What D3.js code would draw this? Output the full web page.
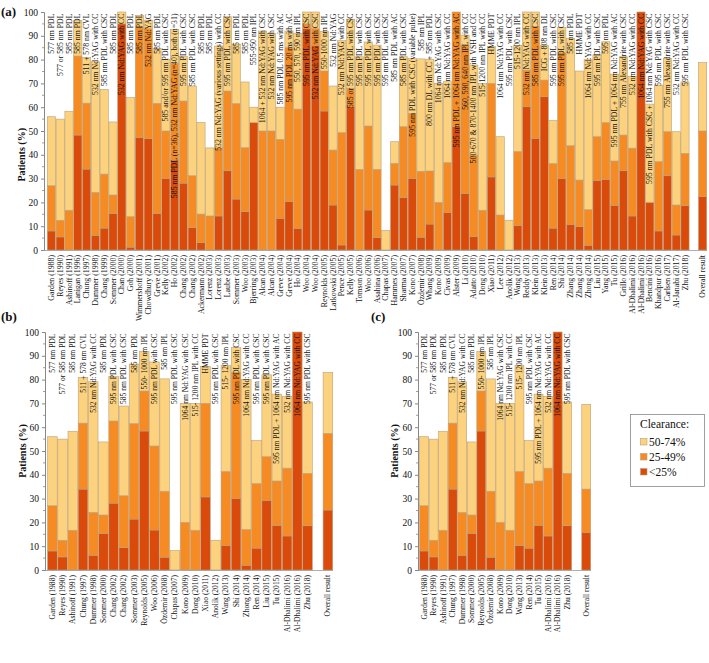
<!DOCTYPE html>
<html><head><meta charset="utf-8">
<script src="https://cdn.jsdelivr.net/npm/d3@7"></script>
<style>
body{margin:0;background:#fff}
svg{display:block}
text{font-family:"Liberation Serif","Times New Roman",serif;fill:#111}
</style>
</head><body>
<svg id="chart" width="709" height="663"></svg>
<script>
// ---------------- DATA ----------------
const studies = ["Garden (1988)","Reyes (1990)","Ashinoff (1991)","Lanigan (1996)","Chung (1997)","Dummer (1998)","Chang (1999)","Sommer (2000)","Chan (2000)","Goh (2000)","Wimmershoff (2001)","Chowdhury (2001)","Greve (2001)","Kelly (2002)","Ho (2002)","Chang (2002)","Chang (2002)","Ackermann (2002)","Lorenz (2003)","Lorenz (2003)","Laube (2003)","Sommer (2003)","Woo (2003)","Bjerring (2003)","Alcan (2004)","Alcan (2004)","Greve (2004)","Greve (2004)","Ho (2004)","Woo (2004)","Woo (2004)","Reynolds (2005)","Latkowski (2005)","Pence (2005)","Kelly (2005)","Tomson (2006)","Woo (2006)","Asahina (2006)","Chapas (2007)","Hammes (2007)","Sharma (2007)","Kono (2007)","Özdemir (2008)","Whang (2009)","Kono (2009)","Civas (2009)","Alster (2009)","Li (2010)","Adatto (2010)","Dong (2010)","Xiao (2011)","Lee (2012)","Anolik (2012)","Wang (2013)","Reddy (2013)","Klein (2013)","Klein (2013)","Ren (2014)","Shi (2014)","Zhang (2014)","Zhang (2014)","Zhong (2014)","Liu (2015)","Yang (2015)","Tu (2015)","Grillo (2016)","Al-Dhalimi (2016)","Al-Dhalimi (2016)","Bencini (2016)","Khandpur (2016)","Carlsen (2017)","Al-Janabi (2017)","Zhu (2018)"];

const treatments = ["577 nm PDL","577 or 585 nm PDL","585 nm PDL","585 nm PDL","511 + 578 nm CVL","532 nm Nd:YAG with CC","585 nm PDL with CSC","585 nm PDL","532 nm Nd:YAG with CC","585 nm PDL","585 nm PDL","532 nm Nd:YAG","585 nm PDL","585 and/or 595 nm PDL with CSC","585 nm PDL (n=36), 532 nm Nd:YAG (n=40), both (n=31)","595 nm PDL with CSC","585 nm PDL with CSC","585 nm PDL","585 nm PDL","532 nm Nd:YAG (various settings) with CC","595 nm PDL with CSC","585 nm PDL","585 nm PDL","555-950 nm IPL","1064 + 532 nm Nd:YAG with CSC","532 nm Nd:YAG with CSC","585 nm PDL 0.5 ms with AC","595 nm PDL 20 ms with AC","550, 570, 590 nm IPL","595 nm PDL with CSC","532 nm Nd:YAG with CSC","550-1000 nm IPL","532 nm Nd:YAG","532 nm Nd:YAG with CC","585 or 595 nm PDL with CSC","595 nm PDL with CSC","595 nm PDL with CSC","595 nm PDL with CSC","595 nm PDL with CSC","585 nm PDL with AC","585 nm PDL with CSC","595 nm PDL with CSC (variable pulse)","585 nm IPL","800 nm DL with CC + 585 nm PDL","1064 nm Nd:YAG with CSC","1064 nm Nd:YAG with CC","595 nm PDL + 1064 nm Nd:YAG with AC","560, 590, 640 nm IPL with CC","500-670 & 870-1400 nm IPL with VSH and CC","515-1200 nm IPL with CC","HMME PDT","1064 nm Nd:YAG with CC","595 nm PDL with CSC","515-1200 nm IPL","532 nm Nd:YAG with CC","585 nm PDL with CSC","ICG + 808 nm DL","595 nm PDL with CSC","595 nm PDL with CSC","585 nm PDL","HMME PDT","1064 nm Nd:YAG with CC","595 nm PDL with CSC","595 nm PDL","595 nm PDL + 1064 nm Nd:YAG with AC","755 nm Alexandrite with CSC","532 nm Nd:YAG with CC","1064 nm Nd:YAG with CC","595 nm PDL with CSC + 1064 nm Nd:YAG with CSC","595 nm PDL with CSC","755 nm Alexandrite with CSC","532 nm Nd:YAG with CC","595 nm PDL with CSC"];

// share of patients (%) per clearance category
const clearLt25 = [8,5.5,0,48.3,34,6.2,9.2,15.4,95,1.2,47.3,46.8,15.4,30.1,37.8,28.1,9.4,3.1,0,14.3,33.3,21.4,16.1,53.5,0,0,13.3,20.3,9.1,93,86,58.4,18.9,2.1,60.2,0,16.8,5.2,0,27.3,22.1,30.1,5.4,10.9,0,15.8,51.8,23.8,5.6,0,30.7,0,0,10.3,60.2,46.9,64.4,9.2,30.1,10.8,9.8,2,29.3,29.7,18.8,33.3,14.3,100,20,8,31.2,6.3,18.6];
const clear25to49 = [19,7,16.7,33.2,27.7,18,22.7,7.7,0,12.8,46.7,46.2,46.2,19.9,40.6,34.5,21.8,12,14.3,28.6,33.5,40.1,26.9,0,50,50,33.2,64.7,50.1,2,7,16.8,23.1,47.2,7.8,33.9,35.3,28.7,0,9.1,29.7,27.3,27.7,22.3,20,20.9,48.2,62.2,34.3,16.7,39.3,14.7,0,31.1,15.4,47.1,7,27.1,52.9,33,19.6,15,18.3,23.8,18.6,15,28.5,0,0,29.1,18.5,12.6,22];
const clear50to74 = [29,42.5,41.6,14.9,19.2,54.9,35.6,30.7,5,50,4.6,3.6,23.1,30,14.3,18.7,37.7,38.5,28.6,42.8,31.2,25,27.6,6.5,42,41,13.5,7,31.8,5,7,16.6,26.9,38.7,29,47.3,35.3,52.2,8.2,9.1,29.4,23.1,47.2,46.8,50,34,0,4.3,37.8,53.3,15.5,32.9,12.5,44.6,24.4,6,14.6,18.1,10.5,45.1,45.8,63,34.4,34,36.5,32.9,30.2,0,41.3,32.2,30.8,30.8,30];

const overallA = [22.4, 27.6, 28.7];
const subsetB = [0,1,2,4,5,7,15,16,21,31,36,42,38,44,49,50,52,53,58,61,57,62,64,66,67,72];
const overallB = [25.2, 32.2, 25.6];
const subsetC = [0,1,2,4,5,7,31,42,44,49,53,57,64,66,67,72];
const overallC = [15.7, 18.3, 35.6];
const overallLabel = "Overall result";

const yTickValues = [0,10,20,30,40,50,60,70,80,90,100];
const legendTitle = "Clearance:";
const legendLabels = ["50-74%","25-49%","<25%"];
const seriesKeys = ["lt25","m25","m50"];
const seriesColors = {lt25:"#D94A0B", m25:"#F68B24", m50:"#FCD27E"};

// ---------------- DRAW ----------------
const svg = d3.select("#chart");

function buildRows(indices, overall, spaced) {
  const rows = indices.map(i => ({
    name: studies[i],
    label: spaced ? treatments[i].replace(/(\d)-(\d)/g, "$1- $2") : treatments[i],
    lt25: clearLt25[i], m25: clear25to49[i], m50: clear50to74[i]
  }));
  rows.push({name:"", label:"", lt25:0, m25:0, m50:0});
  rows.push({name: overallLabel, label:"", lt25: overall[0], m25: overall[1], m50: overall[2]});
  return rows;
}

function drawPanel(cfg) {
  const rows = cfg.rows;
  const x = d3.scaleBand().domain(d3.range(rows.length)).range([cfg.x0, cfg.x1]).padding(0);
  const y = d3.scaleLinear().domain([0,100]).range([cfg.yBottom, cfg.yTop]);
  const g = svg.append("g");

  const stack = d3.stack().keys(seriesKeys)(rows);
  stack.forEach(series => {
    g.append("g").selectAll("rect")
      .data(series.filter(d => d[1] - d[0] > 0))
      .join("rect")
      .attr("x", d => x(rows.indexOf(d.data)) + 0.3)
      .attr("width", x.bandwidth() - 0.6)
      .attr("y", d => y(d[1]))
      .attr("height", d => y(d[0]) - y(d[1]))
      .attr("fill", seriesColors[series.key])
      .attr("stroke", "#B9A07A")
      .attr("stroke-width", 0.6);
  });

  // baseline
  g.append("line").attr("x1", cfg.axisX).attr("x2", cfg.x1)
    .attr("y1", y(0)+0.5).attr("y2", y(0)+0.5).attr("stroke", "#999").attr("stroke-width", 0.8);

  // treatment labels inside the plot (top anchored)
  const ly = y(100) + 1.5;
  g.append("g").selectAll("text")
    .data(rows.filter(r => r.label))
    .join("text")
    .attr("transform", d => `translate(${x(rows.indexOf(d)) + x.bandwidth()/2},${ly}) rotate(-90)`)
    .attr("text-anchor", "end")
    .attr("dy", "0.33em")
    .style("font-size", cfg.labelSize + "px")
    .text(d => d.label);

  // x-axis category labels
  g.append("g").selectAll("text")
    .data(rows.filter(r => r.name))
    .join("text")
    .attr("transform", d => `translate(${x(rows.indexOf(d)) + x.bandwidth()/2},${y(0) + 5}) rotate(-90)`)
    .attr("text-anchor", "end")
    .attr("dy", "0.33em")
    .style("font-size", cfg.catSize + "px")
    .text(d => d.name);

  // y axis
  const ax = g.append("g").attr("transform", `translate(${cfg.axisX},0)`)
    .call(d3.axisLeft(y).tickValues(yTickValues).tickSize(3).tickPadding(3));
  ax.select(".domain").attr("stroke", "#888");
  ax.selectAll(".tick line").attr("stroke", "#888");
  ax.selectAll(".tick text").style("font-size", "9.5px").attr("fill", "#222")
    .style("font-family", '"Liberation Serif","Times New Roman",serif');
  // minor ticks
  g.append("g").selectAll("line").data(d3.range(5, 100, 10)).join("line")
    .attr("x1", cfg.axisX - 2).attr("x2", cfg.axisX)
    .attr("y1", d => y(d)).attr("y2", d => y(d))
    .attr("stroke", "#888").attr("stroke-width", 0.8);

  // y title
  g.append("text")
    .attr("transform", `translate(${cfg.titleX},${y(cfg.titleAt)}) rotate(-90)`)
    .attr("text-anchor", "middle")
    .style("font-size", "10px").style("font-weight", "bold")
    .text("Patients (%)");

  // panel letter
  g.append("text").attr("x", cfg.letterX).attr("y", cfg.letterY)
    .style("font-size", "13px").style("font-weight", "bold").text(cfg.letter);
}

drawPanel({rows: buildRows(d3.range(studies.length), overallA, false),
  x0: 47, x1: 707, yTop: 12, yBottom: 250, axisX: 44,
  labelSize: 7.8, catSize: 7.8, titleX: 25, titleAt: 40,
  letter: "(a)", letterX: 1, letterY: 16});

drawPanel({rows: buildRows(subsetB, overallB, true),
  x0: 47.3, x1: 333, yTop: 332, yBottom: 570, axisX: 45,
  labelSize: 7.6, catSize: 7.6, titleX: 26, titleAt: 50,
  letter: "(b)", letterX: 1, letterY: 321});

drawPanel({rows: buildRows(subsetC, overallC, true),
  x0: 419.3, x1: 591, yTop: 332, yBottom: 570, axisX: 418,
  labelSize: 7.6, catSize: 7.6, titleX: 398, titleAt: 50,
  letter: "(c)", letterX: 371, letterY: 321});

// legend
const lg = svg.append("g");
lg.append("rect").attr("x", 630.5).attr("y", 414.5).attr("width", 74).attr("height", 72)
  .attr("fill", "#fff").attr("stroke", "#888").attr("stroke-width", 0.8);
lg.append("text").attr("x", 640).attr("y", 428).style("font-size", "11.5px").text(legendTitle);
const legendKeys = ["m50","m25","lt25"];
legendLabels.forEach((t, i) => {
  const yy = 446 + i * 15;
  lg.append("rect").attr("x", 640.5).attr("y", yy - 7.5).attr("width", 6.5).attr("height", 6.5)
    .attr("fill", seriesColors[legendKeys[i]]).attr("stroke", "#B9A07A").attr("stroke-width", 0.6);
  lg.append("text").attr("x", 649).attr("y", yy).style("font-size", "11.5px").text(t);
});
</script>
</body></html>
